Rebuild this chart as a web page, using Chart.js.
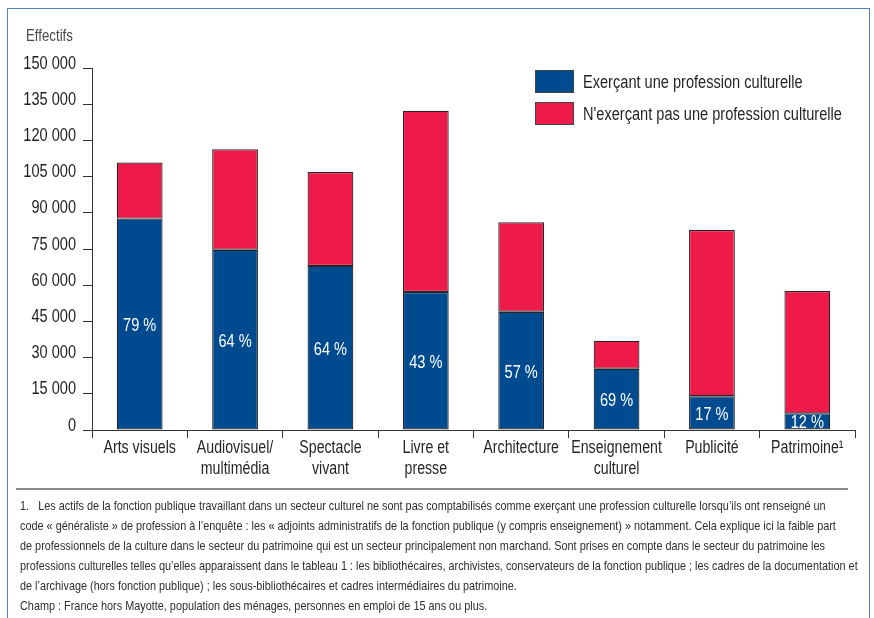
<!DOCTYPE html>
<html>
<head>
<meta charset="utf-8">
<script src="https://cdn.jsdelivr.net/npm/chart.js@4.4.1/dist/chart.umd.min.js"></script>
<style>
  body { margin: 0; background: #fff; }
  #wrap { position: relative; width: 874px; height: 618px; overflow: hidden; }
  #frame { position: absolute; left: 7px; top: 8px; width: 863px; height: 620px; border: 1px solid #4f7fbf; box-sizing: border-box; }
  #unit { position: absolute; left: 26px; top: 26px; font: 17px "Liberation Sans", sans-serif; color: #4a4a4a; transform: scaleX(0.78); transform-origin: 0 0; }
  #sep { position: absolute; left: 16px; top: 488px; width: 832px; height: 2px; background: #8a8a8a; }
  #notes { position: absolute; left: 20px; top: 496px; font: 13px/20px "Liberation Sans", sans-serif; color: #2e2e2e; white-space: nowrap; transform-origin: 0 0; }
  canvas { position: absolute; left: 0; top: 0; }
</style>
</head>
<body>
<div id="wrap">
  <div id="frame"></div>
  <canvas id="culture-chart" width="874" height="618"></canvas>
  <div id="unit">Effectifs</div>
  <div id="sep"></div>
  <div id="notes">1.&nbsp;&nbsp; Les actifs de la fonction publique travaillant dans un secteur culturel ne sont pas comptabilisés comme exerçant une profession culturelle lorsqu’ils ont renseigné un<br>code « généraliste » de profession à l’enquête : les « adjoints administratifs de la fonction publique (y compris enseignement) » notamment. Cela explique ici la faible part<br>de professionnels de la culture dans le secteur du patrimoine qui est un secteur principalement non marchand. Sont prises en compte dans le secteur du patrimoine les<br>professions culturelles telles qu’elles apparaissent dans le tableau 1 : les bibliothécaires, archivistes, conservateurs de la fonction publique ; les cadres de la documentation et<br>de l’archivage (hors fonction publique) ; les sous-bibliothécaires et cadres intermédiaires du patrimoine.<br>Champ : France hors Mayotte, population des ménages, personnes en emploi de 15 ans ou plus.</div>
</div>
<script>
//Data
const sectors = [
  "Arts visuels", ["Audiovisuel/", "multimédia"], ["Spectacle", "vivant"], ["Livre et", "presse"],
  "Architecture", ["Enseignement", "culturel"], "Publicité", "Patrimoine\u00B9"
];
const culturalJobs = [87600, 74700, 68000, 57200, 49000, 25400, 14000, 6900];
const otherJobs = [23200, 41600, 38900, 75100, 37100, 11600, 68900, 50700];
const shareLabels = ["79 %", "64 %", "64 %", "43 %", "57 %", "69 %", "17 %", "12 %"];
const yMax = 150000;
const yStep = 15000;

const FONT = '"Liberation Sans", Arial, sans-serif';
const SX = 0.81; // horizontal squeeze to mimic a condensed face
const BLUE = '#004a8f';
const RED = '#ee1a4a';

const formatNum = (v) => String(v).replace(/\B(?=(\d{3})+(?!\d))/g, ' ');

// footnote block squeezed to the width of the rule
const notes = document.getElementById('notes');
notes.style.transform = 'scaleX(' + (838 / notes.scrollWidth) + ')';

const condensedText = (ctx, text, x, y, align, size, color) => {
  ctx.save();
  ctx.translate(x, y);
  ctx.scale(SX, 1);
  ctx.font = size + 'px ' + FONT;
  ctx.textAlign = align;
  ctx.textBaseline = 'alphabetic';
  ctx.fillStyle = color;
  ctx.fillText(text, 0, 0);
  ctx.restore();
};

//Axis labels drawn from the scales
const axisLabelPlugin = {
  id: 'axisLabels',
  afterDraw(chart) {
    const ctx = chart.ctx;
    const ys = chart.scales.y;
    ys.ticks.forEach((t) => {
      condensedText(ctx, formatNum(t.value), 76, ys.getPixelForValue(t.value) + 0.5, 'right', 18, '#1e1e1e');
    });
    const xs = chart.scales.x;
    chart.data.labels.forEach((lab, i) => {
      const lines = Array.isArray(lab) ? lab : [lab];
      const x = xs.getPixelForTick(i);
      lines.forEach((line, j) => {
        condensedText(ctx, line, x, 453 + j * 21, 'center', 17.5, '#262626');
      });
    });
  }
};

//Percentages inside the blue segments
const shareLabelPlugin = {
  id: 'shareLabels',
  afterDatasetsDraw(chart) {
    const ctx = chart.ctx;
    const meta = chart.getDatasetMeta(0);
    meta.data.forEach((bar, i) => {
      condensedText(ctx, shareLabels[i], bar.x, (bar.y + bar.base) / 2 + 7, 'center', 18, '#fff');
    });
  }
};

//Legend in the top right corner
const boxLegendPlugin = {
  id: 'boxLegend',
  afterDraw(chart) {
    const ctx = chart.ctx;
    chart.data.datasets.forEach((ds, i) => {
      const y = 70 + i * 32;
      ctx.save();
      ctx.fillStyle = ds.backgroundColor;
      ctx.fillRect(535, y, 39, 23);
      ctx.strokeStyle = '#444';
      ctx.lineWidth = 1;
      ctx.strokeRect(535.5, y + 0.5, 38, 22);
      ctx.restore();
      condensedText(ctx, ds.label, 583, y + 18, 'left', 18, '#262626');
    });
  }
};

const cultureCanvas = document.getElementById("culture-chart");

const cultureData = {
  labels: sectors,
  datasets: [
    {
      label: 'Exerçant une profession culturelle',
      data: culturalJobs,
      backgroundColor: BLUE,
      borderColor: '#262626',
      borderWidth: 1.2,
      borderSkipped: false
    },
    {
      label: "N'exerçant pas une profession culturelle",
      data: otherJobs,
      backgroundColor: RED,
      borderColor: '#262626',
      borderWidth: 1.2,
      borderSkipped: false
    }
  ]
};

const cultureOptions = {
  responsive: false,
  animation: false,
  events: [],
  categoryPercentage: 1,
  barPercentage: 0.48,
  layout: {
    padding: { top: 68, right: 19, left: 0, bottom: 0 }
  },
  scales: {
    x: {
      stacked: true,
      afterFit: (scale) => { scale.height = 188; },
      grid: {
        offset: true,
        drawOnChartArea: false,
        drawTicks: true,
        tickLength: 8,
        color: '#333',
        lineWidth: 1
      },
      border: { display: true, color: '#333', width: 1 },
      ticks: { display: false, autoSkip: false, maxRotation: 0 }
    },
    y: {
      stacked: true,
      min: 0,
      max: yMax,
      afterFit: (scale) => { scale.width = 92; },
      grid: {
        drawOnChartArea: false,
        drawTicks: true,
        tickLength: 9,
        color: '#333',
        lineWidth: 1
      },
      border: { display: true, color: '#333', width: 1 },
      ticks: { display: false, stepSize: yStep }
    }
  },
  plugins: {
    legend: { display: false },
    tooltip: { enabled: false }
  }
};

let cultureChart = new Chart(cultureCanvas, {
  type: 'bar',
  data: cultureData,
  options: cultureOptions,
  plugins: [shareLabelPlugin, axisLabelPlugin, boxLegendPlugin]
});
</script>
</body>
</html>
